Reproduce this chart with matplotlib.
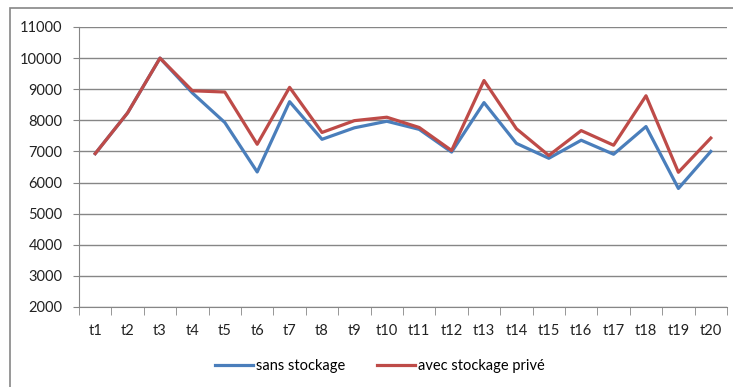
import matplotlib.pyplot as plt
from matplotlib.patches import Rectangle

periods = ['t%d' % i for i in range(1, 21)]
sans_stockage = [6930, 8240, 10000, 8880, 7930, 6340, 8600, 7390, 7760, 7970,
                 7710, 6980, 8570, 7260, 6780, 7360, 6910, 7800, 5810, 7000]
avec_stockage = [6930, 8240, 10000, 8950, 8910, 7230, 9060, 7610, 7990, 8100,
                 7770, 7030, 9280, 7730, 6870, 7670, 7200, 8790, 6330, 7430]

blue = '#4A7EBB'
red = '#BE4B48'
grid_col = '#868686'

plt.rcParams['font.family'] = ['Lato', 'DejaVu Sans']

fig = plt.figure(figsize=(7.33, 3.87), dpi=100)
W, H = 733, 387

# chart frame, runs off the right and bottom edges
fig.patches.append(Rectangle((10 / W, -0.1), 1.2, 1 - 8 / H + 0.1,
                             transform=fig.transFigure, fill=False,
                             edgecolor=grid_col, linewidth=1.2))

ax = fig.add_axes([79 / W, 1 - 307 / H, 648 / W, 280 / H])
x = list(range(len(periods)))
ax.plot(x, sans_stockage, color=blue, lw=2.3, label='sans stockage', zorder=3)
ax.plot(x, avec_stockage, color=red, lw=2.3, label='avec stockage privé', zorder=3)

ax.set_xlim(-0.5, len(periods) - 0.5)
ax.set_ylim(2000, 11000)
ax.set_yticks(range(2000, 11001, 1000))
ax.yaxis.grid(True, color=grid_col, lw=1)
ax.set_axisbelow(True)

ax.set_xticks(x)
ax.set_xticklabels(periods)
ax.set_xticks([i - 0.5 for i in range(len(periods) + 1)], minor=True)
ax.tick_params(axis='x', which='major', length=0, pad=12, labelsize=10.5, colors='#222222')
ax.tick_params(axis='x', which='minor', length=6, color=grid_col, direction='out')
ax.tick_params(axis='y', length=4, color=grid_col, labelsize=10.5, pad=8, colors='#222222')
ax.tick_params(axis='y', color=grid_col)

for s in ['top', 'right']:
    ax.spines[s].set_visible(False)
ax.spines['left'].set_color(grid_col)
ax.spines['bottom'].set_color(grid_col)

fig.legend(loc='center', bbox_to_anchor=(380 / W, 1 - 366 / H), ncol=2,
           frameon=False, fontsize=10.5, handlelength=2.6, handletextpad=0.2,
           columnspacing=2.2)

plt.savefig('out.png', dpi=100)
